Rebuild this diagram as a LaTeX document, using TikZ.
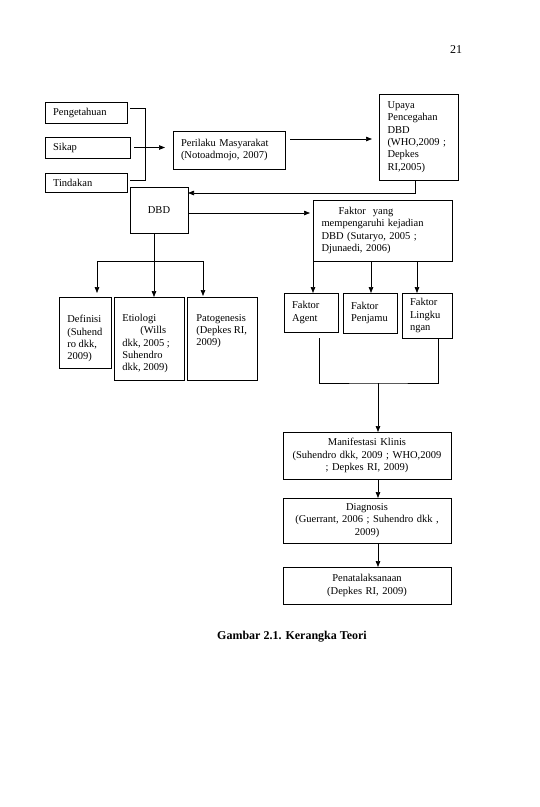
\documentclass[tikz,border=0pt]{standalone}
\usepackage{fontspec}
\setmainfont{Liberation Serif}
\usetikzlibrary{arrows.meta,calc}
\begin{document}
\begin{tikzpicture}[x=1pt,y=-1pt,
  font=\fontsize{10.5}{12.3}\selectfont,
  line width=0.7pt,
  box/.style={draw, line width=0.8pt, inner sep=0pt, outer sep=0pt, anchor=north west},
  lbox/.style={box, align=left},
  cbox/.style={box, align=center},
  txt/.style={inner sep=0pt, anchor=north west, align=left},
  arr/.style={-{Triangle[length=6pt,width=4.5pt]}}]
\useasboundingbox (0,0) rectangle (540,807);
% page number
\node[font=\fontsize{12}{14}\selectfont] (pg) at (456,50) {21};
% left column inputs
\node[lbox, minimum width=82pt, minimum height=21pt, text width=66pt] (peng) at (45,102) {Pengetahuan};
\node[lbox, minimum width=85pt, minimum height=21pt, text width=69pt] (sikap) at (45,137) {Sikap};
\node[lbox, minimum width=82pt, minimum height=19pt, text width=66pt] (tind) at (45,173) {Tindakan};
\node[lbox, minimum width=112pt, minimum height=38pt, text width=96pt] (peril) at (173,131) {Perilaku Masyarakat\\(Notoadmojo, 2007)};
\node[lbox, minimum width=79pt, minimum height=86pt, text width=62pt] (upaya) at (379,94) {Upaya\\Pencegahan\\DBD\\(WHO,2009 ;\\Depkes\\RI,2005)};
\node[cbox, minimum width=58pt, minimum height=46pt, text width=42pt] (dbd) at (130,187) {DBD};
\node[lbox, minimum width=139pt, minimum height=61pt, text width=122pt] (faktor) at (313,200) {\hspace*{17pt}Faktor\ \ yang\\mempengaruhi kejadian\\DBD (Sutaryo, 2005 ;\\Djunaedi, 2006)};
% bottom-left boxes
\node[box, minimum width=52pt, minimum height=71pt] (def) at (59,297) {};
\node[box, minimum width=70pt, minimum height=83pt] (etio) at (114,297) {};
\node[box, minimum width=70pt, minimum height=83pt] (pato) at (187,297) {};
\node[txt] (deft) at ($(def.north west)+(8,18)$) {Definisi\\(Suhend\\ro dkk,\\2009)};
\node[txt] (etiot) at ($(etio.north west)+(8,17)$) {Etiologi\\\hspace*{18pt}(Wills\\dkk, 2005 ;\\Suhendro\\dkk, 2009)};
\node[txt] (patot) at ($(pato.north west)+(9,17)$) {Patogenesis\\(Depkes RI,\\2009)};
% faktor boxes
\node[lbox, minimum width=54pt, minimum height=39pt, text width=38pt] (agent) at (284,293) {Faktor\\Agent};
\node[lbox, minimum width=54pt, minimum height=40pt, text width=38pt] (penj) at (343,293) {Faktor\\Penjamu};
\node[lbox, minimum width=50pt, minimum height=45pt, text width=34pt] (ling) at (402,293) {Faktor\\Lingku\\ngan};
% bottom chain
\node[cbox, minimum width=168pt, minimum height=47pt, text width=160pt] (mani) at (283,432) {Manifestasi Klinis\\(Suhendro dkk, 2009 ; WHO,2009\\; Depkes RI, 2009)};
\node[cbox, minimum width=168pt, minimum height=45pt, text width=160pt] (diag) at (283,498) {Diagnosis\\(Guerrant, 2006 ; Suhendro dkk ,\\2009)};
\node[cbox, minimum width=168pt, minimum height=37pt, text width=160pt] (pena) at (283,567) {Penatalaksanaan\\(Depkes RI, 2009)};
% caption
\node[font=\fontsize{12}{14}\selectfont\bfseries] (cap) at (292,637) {Gambar 2.1. Kerangka Teori};
% connectors
\draw ($(peng.east)+(3,-4)$) -- ++(15,0) |- ($(tind.east)+(3,-2)$);
\draw[arr, shorten >=8pt] ($(sikap.east)+(4,0)$) -- (sikap.east -| peril.west);
\draw[arr, shorten >=7pt] ($(peril.east)+(5,-11)$) coordinate (pa) -- (pa -| upaya.west);
\draw[arr] ($(upaya.south)+(-3,0)$) |- ($(dbd.north east)+(0,6)$);
\draw[arr, shorten >=3pt] ($(dbd.east)+(0,3)$) coordinate (da) -- (da -| faktor.west);
\coordinate (dx) at ($(dbd.south)+(-5,0)$);
\coordinate (jl) at (97,261);
\coordinate (jr) at (203,261);
\draw[arr] (dx) -- (dx |- etio.north);
\draw (jl) -- (jr);
\draw[arr, shorten >=4pt] (jl) -- (jl |- def.north);
\draw[arr, shorten >=1pt] (jr) -- (jr |- pato.north);
\draw[arr] (faktor.south west) -- (faktor.south west |- agent.north);
\coordinate (pn) at ($(penj.north)+(1,0)$);
\draw[arr] (pn |- faktor.south) -- (pn);
\coordinate (ln) at ($(ling.north west)+(15,0)$);
\draw[arr] (ln |- faktor.south) -- (ln);
\coordinate (ml) at (319,338);
\coordinate (mr) at (438,338);
\coordinate (mb) at (378,383);
\draw (ml) |- (mb) -| (mr);
\draw[arr] (mb) -- (mb |- mani.north);
\draw[arr] (mb |- mani.south) -- (mb |- diag.north);
\draw[arr] (mb |- diag.south) -- (mb |- pena.north);
\end{tikzpicture}
\end{document}
